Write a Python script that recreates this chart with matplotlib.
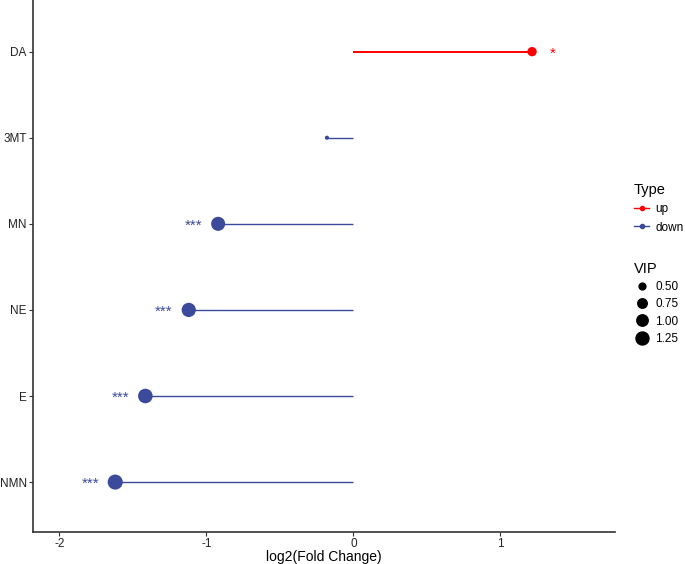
import numpy as np
import matplotlib.pyplot as plt
from matplotlib.lines import Line2D

plt.rcParams['font.family'] = ['Liberation Sans', 'DejaVu Sans']

# data
compounds = ["NMN", "E", "NE", "MN", "3MT", "DA"]
log2fc = [-1.62, -1.415, -1.12, -0.92, -0.18, 1.215]
vip = [1.65, 1.55, 1.48, 1.45, 0.37, 0.73]
stars = ["***", "***", "***", "***", "", "*"]

up_col = "#FF0000"
down_col = "#3B4A9A"


def dot_px(v):
    # area-style size scale, like ggplot's scale_size
    t = np.clip((np.asarray(v) - 0.35) / 1.3, 0, 1)
    return 2.6 * (1 + 4.8 * np.sqrt(t))


fig = plt.figure(figsize=(6.85, 5.64), dpi=100)
ax = fig.add_axes([0.048, 0.0567, 0.85, 0.9433])

y = np.arange(1, len(compounds) + 1)
cols = [up_col if v > 0 else down_col for v in log2fc]
lws = [1.4 if v > 0 else 1.0 for v in log2fc]

ax.hlines(y, 0, log2fc, colors=cols, linewidth=lws, zorder=1)
ax.scatter(log2fc, y, s=(dot_px(vip) * 0.72) ** 2, c=cols, zorder=2, linewidths=0)

for yi, v, st, c in zip(y, log2fc, stars, cols):
    if not st:
        continue
    if v > 0:
        ax.text(v + 0.12, yi - 0.025, st, color=c, ha="left", va="center", fontsize=11)
    else:
        ax.text(v - 0.11, yi - 0.025, st, color=c, ha="right", va="center", fontsize=11)

ax.set_xlim(-2.18, 1.78)
ax.set_ylim(0.42, 6.6)
ax.set_xticks([-2, -1, 0, 1])
ax.set_xticklabels(["-2", "-1", "0", "1"])
ax.set_yticks(y)
ax.set_yticklabels(compounds)
ax.tick_params(labelsize=8.5, colors="#333333", length=3, width=0.8, labelcolor="#222222", pad=1.5)
ax.set_xlabel("log2(Fold Change)", fontsize=10, labelpad=0)

for s in ["top", "right"]:
    ax.spines[s].set_visible(False)
for s in ["left", "bottom"]:
    ax.spines[s].set_color("#333333")
    ax.spines[s].set_linewidth(1.2)

# legends
type_handles = [
    Line2D([], [], color=up_col, marker="o", markersize=3, linewidth=1.0, label="up"),
    Line2D([], [], color=down_col, marker="o", markersize=3, linewidth=1.0, label="down"),
]
leg1 = fig.legend(handles=type_handles, title="Type", loc="upper left",
                  bbox_to_anchor=(0.91, 0.695), frameon=False, fontsize=8.5,
                  title_fontsize=10.5, handlelength=1.3, handletextpad=0.5,
                  labelspacing=0.55, alignment="left")

vip_breaks = [0.5, 0.75, 1.0, 1.25]
vip_handles = [Line2D([], [], color="black", marker="o", linestyle="",
                      markersize=dot_px(b) * 0.72, label=f"{b:.2f}") for b in vip_breaks]
leg2 = fig.legend(handles=vip_handles, title="VIP", loc="upper left",
                  bbox_to_anchor=(0.91, 0.555), frameon=False, fontsize=8.5,
                  title_fontsize=10.5, handlelength=1.3, handletextpad=0.5,
                  labelspacing=0.45, alignment="left")

fig.savefig("out.png", dpi=100)
